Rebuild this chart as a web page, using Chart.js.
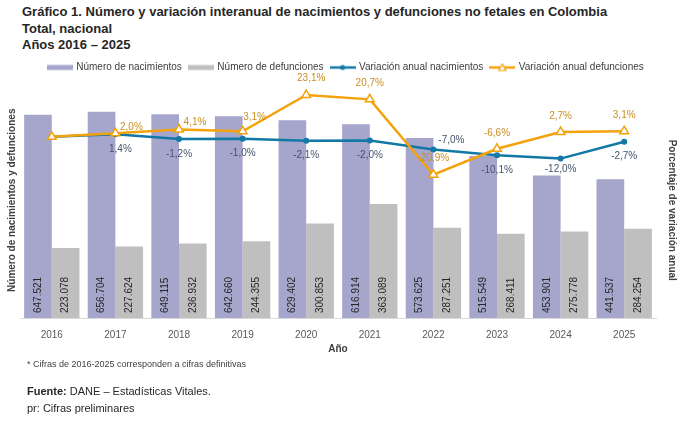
<!DOCTYPE html>
<html>
<head>
<meta charset="utf-8">
<script src="https://cdn.jsdelivr.net/npm/chart.js@4.4.1/dist/chart.umd.min.js"></script>
<style>
  body { margin: 0; width: 689px; height: 425px; background: #fff; position: relative; overflow: hidden;
         font-family: "Liberation Sans", Arial, sans-serif; color: #262626; }
  .titulo { position: absolute; left: 22px; top: 4px; font-weight: bold; font-size: 13px; line-height: 16.5px; color: #262626; white-space: nowrap; }
  #wrap { position: absolute; left: 0; top: 55px; width: 689px; height: 305px; }
  .nota { position: absolute; left: 27px; top: 359px; font-size: 9px; color: #404040; }
  .fuente { position: absolute; left: 27px; top: 383px; font-size: 11px; line-height: 17px; color: #262626; }
</style>
</head>
<body>
<div class="titulo">Gráfico 1. Número y variación interanual de nacimientos y defunciones no fetales en Colombia<br>Total, nacional<br>Años 2016 – 2025</div>
<div id="wrap"><canvas id="grafico"></canvas></div>
<div class="nota">* Cifras de 2016-2025 corresponden a cifras definitivas</div>
<div class="fuente"><b>Fuente:</b> DANE – Estadísticas Vitales.<br>pr: Cifras preliminares</div>
<script>
// Datos del gráfico
const anios = ['2016', '2017', '2018', '2019', '2020', '2021', '2022', '2023', '2024', '2025'];
const nacimientos = [647521, 656704, 649115, 642660, 629402, 616914, 573625, 515549, 453901, 441537];
const defunciones = [223078, 227624, 236932, 244355, 300853, 363089, 287251, 268411, 275778, 284254];
const varNacimientos = [0, 1.4, -1.2, -1.0, -2.1, -2.0, -7.0, -10.1, -12.0, -2.7];
const varDefunciones = [0, 2.0, 4.1, 3.1, 23.1, 20.7, -20.9, -6.6, 2.7, 3.1];

// Colores
const colorNac = '#a6a6cd';
const colorDef = '#bfbfbf';
const colorVarNac = '#1278a6';
const colorVarDef = '#f4a20c';

// Desplazamientos de las etiquetas de las líneas (px)
const despNac = { 1: [5, 0], 6: [18, -24], 8: [0, -4] };
const despDef = { 1: [16, 10], 2: [16, 9], 3: [12, 2], 4: [5, -1] };

const fuente = '"Liberation Sans", Arial, sans-serif';

const fmtMiles = v => String(v).replace(/\B(?=(\d{3})+(?!\d))/g, '.');
const fmtPct = v => v.toFixed(1).replace('.', ',') + '%';

// Iconos de la leyenda
function icono(tipo, color) {
    const c = document.createElement('canvas');
    c.width = 26; c.height = 10;
    const g = c.getContext('2d');
    if (tipo === 'barra') {
        g.fillStyle = color;
        g.fillRect(0, 2.5, 26, 5);
    } else {
        g.strokeStyle = color;
        g.lineWidth = 2.5;
        g.beginPath(); g.moveTo(0, 5); g.lineTo(26, 5); g.stroke();
        if (tipo === 'circulo') {
            g.fillStyle = color;
            g.beginPath(); g.arc(13, 5, 2.5, 0, Math.PI * 2); g.fill();
        } else {
            g.fillStyle = '#fff';
            g.lineWidth = 1.2;
            g.beginPath(); g.moveTo(13, 1.5); g.lineTo(16.5, 8); g.lineTo(9.5, 8); g.closePath();
            g.fill(); g.stroke();
        }
    }
    return c;
}
const iconos = [icono('barra', colorNac), icono('barra', colorDef), icono('circulo', colorVarNac), icono('triangulo', colorVarDef)];

// Etiquetas de datos
const etiquetas = {
    id: 'etiquetas',
    afterDatasetsDraw(chart) {
        const ctx = chart.ctx;
        chart.data.datasets.forEach((ds, i) => {
            const meta = chart.getDatasetMeta(i);
            meta.data.forEach((el, j) => {
                const v = ds.data[j];
                ctx.save();
                ctx.font = '10px ' + fuente;
                if (ds.type === 'bar') {
                    ctx.fillStyle = '#262626';
                    ctx.translate(el.x, el.base - 5);
                    ctx.rotate(-Math.PI / 2);
                    ctx.textAlign = 'left';
                    ctx.textBaseline = 'middle';
                    ctx.fillText(fmtMiles(v), 0, 0);
                } else if (j > 0) {
                    const esNac = i === 2;
                    const d = (esNac ? despNac : despDef)[j] || [0, 0];
                    ctx.fillStyle = esNac ? '#44546a' : '#c98f1f';
                    ctx.textAlign = 'center';
                    ctx.textBaseline = 'middle';
                    ctx.fillText(fmtPct(v), el.x + d[0], el.y + (esNac ? 15 : -16) + d[1]);
                }
                ctx.restore();
            });
        });
    }
};

const tituloEje = { family: fuente, size: 10, weight: 'bold' };

new Chart(document.getElementById('grafico'), {
    data: {
        labels: anios,
        datasets: [
            { type: 'bar', label: 'Número de nacimientos', data: nacimientos, backgroundColor: colorNac, yAxisID: 'y', order: 3, categoryPercentage: 0.87, barPercentage: 1 },
            { type: 'bar', label: 'Número de defunciones', data: defunciones, backgroundColor: colorDef, yAxisID: 'y', order: 3, categoryPercentage: 0.87, barPercentage: 1 },
            { type: 'line', label: 'Variación anual nacimientos', data: varNacimientos, borderColor: colorVarNac, backgroundColor: colorVarNac, borderWidth: 2.5, pointRadius: 3, pointBorderWidth: 0, yAxisID: 'y1', order: 2 },
            { type: 'line', label: 'Variación anual defunciones', data: varDefunciones, borderColor: colorVarDef, backgroundColor: '#fff', borderWidth: 2.5, pointStyle: 'triangle', pointRadius: 5, pointBorderWidth: 1.5, yAxisID: 'y1', order: 1 }
        ]
    },
    options: {
        responsive: true,
        maintainAspectRatio: false,
        animation: false,
        layout: { padding: { top: 0, right: 1, bottom: 5, left: 4 } },
        plugins: {
            tooltip: { enabled: false },
            legend: {
                position: 'top',
                labels: {
                    usePointStyle: true,
                    pointStyleWidth: 23,
                    padding: 7.5,
                    color: '#404040',
                    font: { family: fuente, size: 10 },
                    sort: (a, b) => a.datasetIndex - b.datasetIndex,
                    generateLabels: chart => Chart.defaults.plugins.legend.labels.generateLabels(chart)
                        .map(it => Object.assign(it, { pointStyle: iconos[it.datasetIndex] }))
                }
            }
        },
        scales: {
            x: {
                grid: { display: false, drawTicks: false },
                border: { color: '#d9d9d9' },
                ticks: { color: '#595959', font: { family: fuente, size: 10 }, padding: 11 },
                title: { display: true, text: 'Año', color: '#404040', font: tituloEje, padding: { top: -9, bottom: 0 } }
            },
            y: {
                position: 'left',
                min: 0, max: 750000,
                grid: { display: false, drawTicks: false },
                border: { display: false },
                ticks: { display: false },
                title: { display: true, text: 'Número de nacimientos y defunciones', color: '#404040', font: tituloEje, padding: 2 }
            },
            y1: {
                position: 'right',
                min: -100, max: 30,
                grid: { display: false, drawTicks: false },
                border: { display: false },
                ticks: { display: false },
                title: { display: true, text: '\u2002\u2002\u2002\u2002Porcentaje de variación anual', color: '#404040', font: tituloEje, padding: 10 }
            }
        }
    },
    plugins: [etiquetas]
});
</script>
</body>
</html>
